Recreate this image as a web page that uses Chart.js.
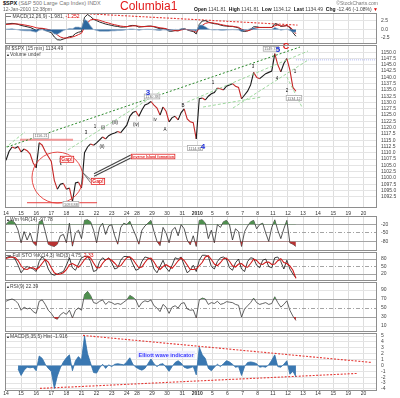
<!DOCTYPE html>
<html>
<head>
<meta charset="utf-8">
<script src="https://cdn.jsdelivr.net/npm/chart.js@4.4.1/dist/chart.umd.min.js"></script>
<style>
html, body { margin: 0; padding: 0; background: #fff; }
#wrap { position: relative; width: 400px; height: 398px; overflow: hidden; font-family: "Liberation Sans", Arial, sans-serif; }
canvas { position: absolute; left: 0; }
.t { position: absolute; font-size: 5px; line-height: 5px; color: #444; white-space: nowrap; }
.t b { color: #111; }
.tri { font-size: 4px; color: #333; }
</style>
</head>
<body>
<div id="wrap">
  <canvas id="cMacd" width="400" height="31" style="top:13px"></canvas>
  <canvas id="cPrice" width="400" height="187" style="top:30px"></canvas>
  <canvas id="cWmr" width="400" height="35" style="top:216px"></canvas>
  <canvas id="cSto" width="400" height="29" style="top:252px"></canvas>
  <canvas id="cRsi" width="400" height="50" style="top:282px"></canvas>
  <canvas id="cHist" width="400" height="65" style="top:333px"></canvas>

  <div class="t" style="left:3px;top:0px;font-size:5.5px;line-height:6px"><b>$SPX</b> <span style="color:#777">(S&amp;P 500 Large Cap Index) INDX</span></div>
  <div class="t" style="left:3px;top:7px;color:#666">12-Jan-2010 12:38pm</div>
  <div class="t" style="left:120px;top:0px;font-size:12px;line-height:12px;color:#e21b1b">Columbia1</div>
  <div class="t" style="right:22px;top:1px;color:#777">&copy;StockCharts.com</div>
  <div class="t" style="right:22px;top:7px"><b>Open</b> 1141.81 &nbsp;<b>High</b> 1141.81 &nbsp;<b>Low</b> 1134.12 &nbsp;<b>Last</b> 1134.49 &nbsp;<b>Chg</b> -12.46 (-1.08%) <span style="color:#d00">&#9660;</span></div>

  <div class="t" style="left:6px;top:14px"><b>&mdash;</b> MACD(12,26,9) -1.981, <span style="color:#d00">-1.252</span></div>
  <div class="t" style="left:6px;top:46px">M $SPX (15 min) 1134.49</div>
  <div class="t" style="left:6px;top:52px"><span class="tri">&#9650;</span>Volume undef</div>
  <div class="t" style="left:6px;top:217px"><span class="tri">&#9650;</span>Wm %R(14) -97.78</div>
  <div class="t" style="left:6px;top:253px"><b>&mdash;</b> Full STO %K(14,3) %D(3) 4.75, <span style="color:#d00">2.33</span></div>
  <div class="t" style="left:6px;top:284px"><span class="tri">&#9650;</span>RSI(9) 22.39</div>
  <div class="t" style="left:6px;top:334px"><span class="tri">&#9650;</span>MACD(5,35,5) Hist -1.916</div>
</div>
<script>
// ---------- x axis: trading days (Dec 14 = 0), 15-min data sampled every 0.2 day ----------
var STEP = 0.2;
var X_MIN = -0.066, X_MAX = 24.57;
var dayLabels = ['14','15','16','17','18','21','22','23','24','28','29','30','31','2010','5','6','7','8','11','12','13','14','15','19','20'];
var dayPos    = [0,1,2,3,4,5,6,7,8,8.67,9.67,10.67,11.67,12.67,13.67,14.67,15.67,16.67,17.67,18.67,19.67,20.67,21.67,22.67,23.67];

// ---------- series ----------
var priceVals = [
  1107, 1110.5, 1112.3, 1111.8, 1112.5,
  1110.3, 1111.5, 1110.8, 1109.5, 1105.9,
  1104, 1114, 1113, 1110.5, 1108.5,
  1106.5, 1099, 1095.5, 1097.5, 1097.8,
  1095.5, 1096, 1090.5, 1098, 1098.3,
  1096, 1110, 1112.3, 1113.5, 1113,
  1113.9, 1115.1, 1116.3, 1115.5, 1116.8,
  1117.5, 1117.9, 1118.5, 1118, 1119.5,
  1121, 1124.5, 1126, 1126.5, 1124.5,
  1127, 1129, 1129.5, 1130.4, 1129,
  1127.8, 1125, 1128.2, 1126.5, 1122.3,
  1124, 1124.5, 1123.1, 1126, 1127.5,
  1123.5, 1122.3, 1122, 1115.5, 1131.5,
  1131.8, 1131, 1132.5, 1133.5, 1134,
  1135.8, 1135.5, 1135, 1136.5, 1137,
  1137.5, 1136.5, 1136, 1131.5, 1133,
  1134.5, 1137, 1142, 1140, 1139.5,
  1140.5, 1141.5, 1142, 1142.5, 1149.5,
  1145, 1142.2, 1145.5, 1147.5, 1143,
  1136, 1134.49
];
var macdVals = [
  1.6, 1.7, 1.8, 1.7, 1.5,
  1.2, 1.0, 0.8, 0.6, 0.2,
  -0.3, 0.2, 0.3, -0.2, -0.6,
  -0.9, -2.2, -3.0, -3.1, -2.8,
  -2.5, -2.1, -2.0, -1.2, -0.8,
  -0.6, 3.6, 4.4, 3.8, 3.0,
  2.6, 2.2, 1.9, 1.6, 1.4,
  1.2, 1.0, 0.9, 0.7, 0.7,
  0.8, 1.1, 1.2, 1.1, 0.7,
  0.8, 0.9, 1.0, 1.0, 0.8,
  0.5, 0.2, 0.3, 0.1, -0.5,
  -0.5, -0.3, -0.4, 0.1, 0.3,
  -0.1, -0.4, -0.6, -1.3, 1.5,
  2.5, 2.6, 2.2, 1.9, 1.7,
  1.6, 1.3, 1.1, 1.0, 0.9,
  0.9, 0.7, 0.5, -0.5, -0.6,
  -0.4, 0.1, 0.8, 0.8, 0.6,
  0.6, 0.6, 0.6, 0.6, 1.7,
  1.5, 0.9, 1.0, 1.2, 0.5,
  -0.9, -1.981
];
var signalVals = [
  1.5, 1.55, 1.6, 1.65, 1.6,
  1.5, 1.35, 1.2, 1.0, 0.8,
  0.5, 0.4, 0.35, 0.2, 0.0,
  -0.3, -0.9, -1.6, -2.2, -2.5,
  -2.5, -2.4, -2.2, -1.9, -1.5,
  -1.1, 0.6, 2.0, 2.8, 3.0,
  2.9, 2.7, 2.4, 2.1, 1.9,
  1.6, 1.4, 1.2, 1.0, 0.9,
  0.85, 0.95, 1.05, 1.1, 0.95,
  0.85, 0.85, 0.9, 0.95, 0.9,
  0.7, 0.5, 0.4, 0.25, -0.1,
  -0.3, -0.35, -0.35, -0.15, 0.05,
  0.0, -0.2, -0.4, -0.8, 0.2,
  1.2, 1.8, 2.0, 2.0, 1.85,
  1.7, 1.5, 1.3, 1.15, 1.0,
  0.95, 0.8, 0.65, 0.1, -0.3,
  -0.4, -0.15, 0.3, 0.55, 0.6,
  0.6, 0.6, 0.6, 0.6, 1.1,
  1.3, 1.1, 1.05, 1.1, 0.8,
  -0.1, -1.252
];
var macdHistVals = [
  0.1, 0.15, 0.2, 0.05, -0.1,
  -0.3, -0.35, -0.4, -0.4, -0.6,
  -0.8, -0.2, -0.05, -0.4, -0.6,
  -0.6, -1.3, -1.4, -0.9, -0.3,
  0.0, 0.3, 0.2, 0.7, 0.7,
  0.5, 3.0, 2.4, 1.0, 0.0,
  -0.3, -0.5, -0.5, -0.5, -0.5,
  -0.4, -0.4, -0.3, -0.3, -0.2,
  -0.05, 0.15, 0.15, 0.0, -0.25,
  -0.05, 0.05, 0.1, 0.05, -0.1,
  -0.2, -0.3, -0.1, -0.15, -0.4,
  -0.2, 0.05, -0.05, 0.25, 0.25,
  -0.1, -0.2, -0.2, -0.5, 1.3,
  1.3, 0.8, 0.2, -0.1, -0.15,
  -0.1, -0.2, -0.2, -0.15, -0.1,
  -0.05, -0.1, -0.15, -0.6, -0.3,
  0.0, 0.25, 0.5, 0.25, 0.0,
  0.0, 0.0, 0.0, 0.0, 0.6,
  0.2, -0.2, -0.05, 0.1, -0.3,
  -0.8, -0.73
];
var wmrVals = [
  -20, -8, -5, -15, -40,
  -85, -45, -75, -50, -85,
  -95, -10, -5, -45, -90,
  -95, -98, -90, -60, -55,
  -85, -15, -97, -50, -40,
  -70, -5, -3, -10, -40,
  -85, -30, -15, -55, -25,
  -20, -60, -90, -30, -15,
  -20, -8, -35, -60, -90,
  -40, -25, -15, -5, -45,
  -80, -95, -30, -50, -85,
  -40, -30, -60, -20, -35,
  -75, -92, -60, -98, -5,
  -3, -15, -70, -40, -85,
  -20, -30, -10, -5, -20,
  -75, -35, -45, -98, -45,
  -25, -10, -5, -35, -20,
  -15, -50, -80, -30, -3,
  -40, -70, -35, -5, -85,
  -90, -97.78
];
var stoK = [
  85, 90, 88, 80, 55,
  25, 40, 50, 45, 40,
  30, 70, 90, 75, 40,
  20, 15, 20, 25, 30,
  55, 85, 45, 35, 60,
  85, 90, 92, 70, 30,
  35, 70, 85, 75, 85,
  65, 40, 45, 75, 90,
  90, 88, 60, 35, 40,
  70, 88, 85, 80, 40,
  25, 50, 75, 45, 30,
  55, 85, 80, 88, 55,
  25, 35, 55, 30, 75,
  95, 95, 90, 50, 40,
  70, 85, 88, 80, 45,
  35, 65, 80, 40, 30,
  70, 85, 82, 55, 45,
  75, 80, 50, 45, 85,
  88, 70, 40, 75, 40,
  20, 4.75
];
var stoD = [
  82, 86, 88, 86, 74,
  53, 40, 38, 45, 45,
  38, 47, 63, 78, 68,
  45, 25, 18, 20, 25,
  37, 57, 62, 55, 47,
  60, 78, 89, 84, 64,
  45, 45, 63, 77, 82,
  75, 63, 50, 53, 70,
  85, 89, 79, 61, 45,
  48, 66, 81, 84, 68,
  48, 38, 50, 57, 50,
  43, 57, 73, 84, 74,
  56, 38, 38, 40, 53,
  67, 88, 93, 78, 60,
  53, 65, 81, 84, 71,
  53, 48, 60, 62, 50,
  47, 62, 79, 74, 61,
  58, 67, 68, 58, 60,
  73, 81, 66, 62, 52,
  35, 2.33
];
var rsiVals = [
  65, 68, 70, 67, 60,
  45, 52, 48, 50, 42,
  38, 65, 68, 58, 45,
  38, 28, 25, 35, 40,
  36, 45, 28, 45, 50,
  45, 80, 87, 78, 62,
  60, 65, 68, 58, 64,
  62, 58, 60, 58, 63,
  68, 78, 74, 68, 52,
  62, 66, 64, 68, 55,
  50, 42, 58, 52, 38,
  52, 55, 50, 60, 62,
  48, 45, 46, 28, 68,
  72, 70, 58, 62, 60,
  65, 58, 60, 64, 63,
  62, 58, 56, 30, 48,
  55, 62, 72, 62, 58,
  60, 62, 58, 60, 75,
  62, 52, 58, 66, 45,
  32, 22.39
];
var hist2Vals = [
  null, null, null, null, -0.6,
  -1.7, -0.8, -0.3, -0.4, -0.3,
  -0.9, 1.6, 1.2, 0.2, -0.5,
  -1.0, -3.9, -1.8, -0.4, 0.6,
  1.3, 1.8, -0.9, 0.8, 1.5,
  0.9, 5.0, 2.0, 0.4, -1.2,
  -1.3, -0.4, 0.2, -0.5, 0.1,
  -0.2, 0.2, 0.3, 0.2, 0.1,
  0.6, 1.3, 0.2, -0.3, -0.6,
  -0.8, -0.5, 0.3, 1.1, 0.3,
  -0.2, 0.2, 0.3, -0.3, -1.0,
  -0.2, 0.5, 0.8, 0.4, -0.3,
  -0.5, -0.4, -0.2, -1.6, 3.1,
  1.8, 1.2, -0.5, -0.9, -0.3,
  0.2, -0.2, 0.3, 0.8, 0.6,
  0.2, -0.3, -0.2, -1.7, -0.2,
  0.5, 0.6, 0.5, 0.3, -0.3,
  -0.2, -0.3, 0.1, 0.9, 1.8,
  -0.2, -0.3, 0.2, 0.8, -1.5,
  -1.0, -1.916
];

// ---------- tick labels ----------
var macdTicks  = [2.5, 0, -2.5];
var priceTicks = [1092.5, 1095, 1097.5, 1100, 1102.5, 1105, 1107.5, 1110, 1112.5, 1115, 1117.5, 1120,
                  1122.5, 1125, 1127.5, 1130, 1132.5, 1135, 1137.5, 1140, 1142.5, 1145, 1147.5, 1150];
var wmrTicks   = [-20, -50, -80];
var stoTicks   = [80, 50, 20];
var rsiTicks   = [90, 70, 50, 30, 10];
var histTicks  = [5, 4, 3, 2, 1, 0, -1, -2, -3, -4];

// ---------- drawn notes (data units: [t, value]) ----------
var trendMain   = [[0.07, 1112.3], [19.47, 1152.1]];
var trendLight  = [
  [[-0.07, 1111.9], [1.26, 1118.3]],
  [[4.1, 1111.1], [10.2, 1134.2]],
  [[12.0, 1130.2], [20.0, 1150.5]],
  [[13.05, 1128.2], [16.95, 1132.2]],
  [[15.03, 1127.8], [20.0, 1146.9]],
  [[18.6, 1140.2], [19.6, 1128.2]]
];
var lowLine     = [[1.39, 1090.1], [6.03, 1090.1]];
var highLine    = [[0.93, 1115.2], [4.44, 1115.2]];
var prevClose   = [[19.2, 1146.98], [24.6, 1146.98]];
var lowCircle   = [3.41, 1100.1];
var gapNotes    = [['Gap!', 4.04, 1107.4, 3.64, 1105.1], ['Gap!', 6.09, 1098.6, 5.10, 1102.0]];
var islandNote  = ['Inverse Island formation', 9.74, 1108.5, 5.83, 1101.6];
var priceTags   = [['1116.21', 2.32, 1116.7], ['1093.88', 4.30, 1089.6], ['1130.38', 9.67, 1132.4],
                   ['1114.81', 12.52, 1111.9], ['1149.74', 17.55, 1151.4], ['1134.12', 19.07, 1131.8]];
var waveMarks   = [['3', 5.30, 1118.0], ['1', 5.89, 1120.3], ['(i)', 6.42, 1120.0], ['(ii)', 6.36, 1112.4],
                   ['(iii)', 7.22, 1122.0], ['(iv)', 8.61, 1121.2], ['iv', 9.87, 1123.2], ['A', 10.53, 1119.3],
                   ['B', 11.72, 1128.6], ['1', 13.71, 1138.0], ['3', 16.36, 1144.2], ['4', 17.95, 1139.5],
                   ['2', 18.61, 1134.8], ['1', 19.14, 1142.3]];
var bigMarks    = [['3', 9.40, 1133.8, '#2233dd', 8], ['4', 13.05, 1112.3, '#2233dd', 8],
                   ['5', 18.01, 1150.9, '#2233dd', 8], ['C', 18.54, 1152.4, '#e01010', 9]];
var macdTrend   = [[5.1, 4.7], [19.3, 1.3]];
var histUpper   = [[5.1, 5.1], [24.24, 0.5]];
var histLower   = [[2.25, -3.9], [23.25, -1.36]];
var elliottNote = ['Elliott wave indicator', 10.6, 1.86];

// ---------- helpers ----------
var FONT = '"Liberation Sans", Arial, sans-serif';
Chart.defaults.font.family = FONT;
Chart.defaults.font.size = 5;
Chart.defaults.color = '#444';

var times = priceVals.map(function(v, i) { return Math.round(i * STEP * 100) / 100; });
function pts(arr) { return arr.map(function(v, i) { return { x: times[i], y: v }; }); }
function seg(p) { return p.map(function(q) { return { x: q[0], y: q[1] }; }); }

function lineSet(data, color, width, dash) {
  return { data: data, borderColor: color, borderWidth: width, borderDash: dash || [], pointRadius: 0, fill: false };
}

function xScale(showLabels, h, pad) {
  return {
    type: 'linear', min: X_MIN, max: X_MAX,
    afterBuildTicks: function(s) { s.ticks = dayPos.map(function(v) { return { value: v }; }); },
    ticks: {
      display: showLabels, autoSkip: false, maxRotation: 0, padding: pad, color: '#333',
      font: function(ctx) { return { size: 5, weight: dayLabels[ctx.index] === '2010' ? 'bold' : 'normal' }; },
      callback: function(v, i) { return dayLabels[i]; }
    },
    grid: { color: '#dedede', drawTicks: false },
    border: { display: false },
    afterFit: function(s) { s.height = h; s.paddingLeft = 0; s.paddingRight = 0; }
  };
}

function yScale(c) {
  return {
    position: 'right', min: c.min, max: c.max,
    afterBuildTicks: function(s) { s.ticks = c.ticks.map(function(v) { return { value: v }; }); },
    ticks: { padding: 4, autoSkip: false, color: '#444', font: { size: 5 }, callback: c.fmt || function(v) { return String(v); } },
    grid: {
      drawTicks: false,
      color: function(ctx) {
        var v = ctx.tick ? ctx.tick.value : null;
        return (c.strong && c.strong.indexOf(v) >= 0) ? '#a4a4a4' : '#e4e4e4';
      }
    },
    border: {
      display: false,
      dash: function(ctx) {
        var v = ctx.tick ? ctx.tick.value : null;
        return (c.dashed && c.dashed.indexOf(v) >= 0) ? [4, 2, 1, 2] : [];
      }
    },
    afterFit: function(s) { s.width = 23; s.paddingTop = 0; s.paddingBottom = 0; }
  };
}

var framePlugin = {
  id: 'frame',
  afterDraw: function(chart) {
    var a = chart.chartArea, c = chart.ctx;
    c.save();
    c.strokeStyle = '#8e8e8e'; c.lineWidth = 1;
    c.strokeRect(a.left + 0.5, a.top + 0.5, a.right - a.left - 1, a.bottom - a.top - 1);
    c.restore();
  }
};

function tagWidth(ctx, text, o) {
  ctx.font = (o.bold ? 'bold ' : '') + o.size + 'px ' + FONT;
  return ctx.measureText(text).width + 3;
}
function tag(ctx, x, y, text, o) {
  var w = tagWidth(ctx, text, o), h = o.size + 2;
  ctx.fillStyle = o.fill || '#fff';
  ctx.fillRect(x - w / 2, y - h / 2, w, h);
  if (o.border) {
    ctx.strokeStyle = o.border; ctx.lineWidth = 0.8;
    ctx.strokeRect(x - w / 2 + 0.5, y - h / 2 + 0.5, w - 1, h - 1);
  }
  ctx.fillStyle = o.color; ctx.textAlign = 'center'; ctx.textBaseline = 'middle';
  ctx.fillText(text, x, y + 0.5);
}

function panel(id, cfg) {
  return new Chart(document.getElementById(id), {
    type: 'line',
    data: { datasets: cfg.datasets },
    options: {
      responsive: false, animation: false, devicePixelRatio: 1,
      layout: { padding: { left: 5, right: 0, top: cfg.padTop || 0, bottom: 0 } },
      plugins: { legend: { display: false }, tooltip: { enabled: false } },
      elements: { point: { radius: 0 }, line: { tension: 0 } },
      scales: { x: xScale(!!cfg.xLabels, cfg.xHeight || 0, cfg.xPad || 0), y: yScale(cfg) }
    },
    plugins: [framePlugin].concat(cfg.plugins || [])
  });
}

// ---------- notes on the price panel ----------
var priceNotes = {
  id: 'priceNotes',
  afterDatasetsDraw: function(chart) {
    var c = chart.ctx, xs = chart.scales.x, ys = chart.scales.y;
    function X(t) { return xs.getPixelForValue(t); }
    function Y(v) { return ys.getPixelForValue(v); }
    c.save();
    c.strokeStyle = '#e53935'; c.lineWidth = 0.9;
    c.beginPath(); c.arc(X(lowCircle[0]), Y(lowCircle[1]), 25.5, 0, 2 * Math.PI); c.stroke();

    var gapStyle = { size: 5, bold: true, color: '#e02020', border: '#e02020' };
    var islandStyle = { size: 3.6, bold: true, color: '#e02020', border: '#e02020' };
    c.strokeStyle = '#555'; c.lineWidth = 0.8;
    gapNotes.forEach(function(n) {
      var bx = X(n[1]) - tagWidth(c, n[0], gapStyle) / 2, by = Y(n[2]);
      c.beginPath(); c.moveTo(bx, by - 1.5); c.lineTo(X(n[3]), Y(n[4])); c.lineTo(bx, by + 1.5); c.stroke();
    });
    var ib = X(islandNote[1]) - tagWidth(c, islandNote[0], islandStyle) / 2, iy = Y(islandNote[2]);
    c.strokeStyle = '#444'; c.lineWidth = 1.1;
    c.beginPath(); c.moveTo(ib, iy - 1.5); c.lineTo(X(islandNote[3]), Y(islandNote[4])); c.stroke();
    c.beginPath(); c.moveTo(ib, iy + 1.5); c.lineTo(X(islandNote[3]), Y(islandNote[4]) + 2.5); c.stroke();

    gapNotes.forEach(function(n) { tag(c, X(n[1]), Y(n[2]), n[0], gapStyle); });
    tag(c, X(islandNote[1]), Y(islandNote[2]), islandNote[0], islandStyle);
    priceTags.forEach(function(n) { tag(c, X(n[1]), Y(n[2]), n[0], { size: 3.8, color: '#666', border: '#aaa' }); });

    c.textAlign = 'center'; c.textBaseline = 'middle';
    c.font = '4.5px ' + FONT; c.fillStyle = '#111';
    waveMarks.forEach(function(n) { c.fillText(n[0], X(n[1]), Y(n[2])); });
    bigMarks.forEach(function(n) {
      c.font = 'bold ' + n[4] + 'px ' + FONT; c.fillStyle = n[3];
      c.fillText(n[0], X(n[1]), Y(n[2]));
    });
    c.restore();
  }
};

var histNotes = {
  id: 'histNotes',
  afterDatasetsDraw: function(chart) {
    var c = chart.ctx;
    c.save();
    tag(c, chart.scales.x.getPixelForValue(elliottNote[1]), chart.scales.y.getPixelForValue(elliottNote[2]),
        elliottNote[0], { size: 5.5, bold: true, color: '#3b3bff', fill: '#eeeefc' });
    c.restore();
  }
};

// ---------- panels ----------
var GREEN = '#4e8f4e', RED = '#b83232', CLEAR = 'rgba(0,0,0,0)';

panel('cMacd', {
  min: -4.26, max: 4.85, ticks: macdTicks, fmt: function(v) { return v.toFixed(1); },
  datasets: [
    { data: pts(macdHistVals), borderColor: '#8fa9c6', borderWidth: 0.7, backgroundColor: '#2d679f', fill: 'origin', pointRadius: 0 },
    lineSet(pts(signalVals), '#d62020', 1),
    lineSet(pts(macdVals), '#111', 0.9),
    lineSet(seg(macdTrend), '#e53935', 1.1, [2, 1.5])
  ]
});

var priceSets = [
  lineSet(seg(trendMain), '#2b8a2b', 1, [2, 2]),
  lineSet(seg(lowLine), '#e84040', 1),
  lineSet(seg(highLine), 'rgba(240,120,120,0.75)', 2),
  lineSet(seg(prevClose), '#aab4f0', 1, [1, 1])
];
trendLight.forEach(function(p) { priceSets.push(lineSet(seg(p), '#93d493', 0.9, [3, 2])); });
priceSets.push({
  data: pts(priceVals), borderWidth: 1.1, pointRadius: 0, fill: false, borderColor: '#222',
  segment: { borderColor: function(ctx) { return ctx.p1.parsed.y < ctx.p0.parsed.y ? '#c62828' : '#1a1a1a'; } }
});
panel('cPrice', {
  min: 1088.0, max: 1152.9, ticks: priceTicks, fmt: function(v) { return v.toFixed(1); },
  padTop: 15, xLabels: true, xHeight: 9, xPad: 3,
  datasets: priceSets, plugins: [priceNotes]
});

panel('cWmr', {
  min: -114.3, max: 10.7, ticks: wmrTicks, strong: [-20, -80, -50], dashed: [-50],
  datasets: [
    { data: pts(wmrVals), borderWidth: 0, pointRadius: 0, fill: { target: { value: -20 }, above: GREEN, below: CLEAR } },
    { data: pts(wmrVals), borderWidth: 0, pointRadius: 0, fill: { target: { value: -80 }, above: CLEAR, below: RED } },
    lineSet(pts(wmrVals), '#2a2a2a', 0.8)
  ]
});

panel('cSto', {
  min: -8, max: 108, ticks: stoTicks, strong: [80, 20, 50], dashed: [50],
  datasets: [
    lineSet(pts(stoD), '#d01818', 1.1),
    lineSet(pts(stoK), '#111', 0.8)
  ]
});

panel('cRsi', {
  min: -3.3, max: 107.8, ticks: rsiTicks, strong: [70, 30, 50], dashed: [50],
  datasets: [
    { data: pts(rsiVals), borderWidth: 0, pointRadius: 0, fill: { target: { value: 70 }, above: GREEN, below: CLEAR } },
    { data: pts(rsiVals), borderWidth: 0, pointRadius: 0, fill: { target: { value: 30 }, above: CLEAR, below: RED } },
    lineSet(pts(rsiVals), '#3c3c3c', 0.8)
  ]
});

panel('cHist', {
  min: -4.34, max: 5.51, ticks: histTicks,
  xLabels: true, xHeight: 7, xPad: 0,
  datasets: [
    { data: pts(hist2Vals), borderColor: '#2f6fa8', borderWidth: 0.8, backgroundColor: '#3a78b2', fill: 'origin', pointRadius: 0 },
    lineSet(seg(histUpper), '#e53935', 1.1, [2, 1.5]),
    lineSet(seg(histLower), '#e53935', 1.1, [2, 1.5])
  ],
  plugins: [histNotes]
});
</script>
</body>
</html>
